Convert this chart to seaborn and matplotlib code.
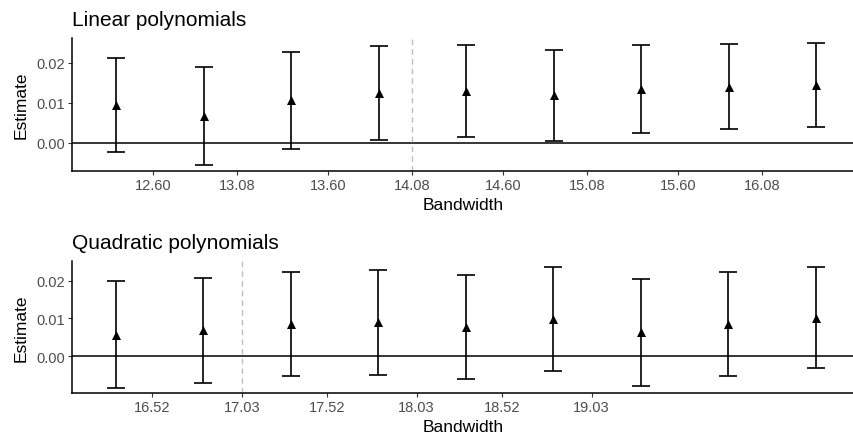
import numpy as np
import pandas as pd
import matplotlib
matplotlib.use("Agg")
import matplotlib.pyplot as plt
import seaborn as sns

# ---- data ----
lin_bw = [12.39, 12.89, 13.39, 13.89, 14.39, 14.89, 15.39, 15.89, 16.39]
lin_lo = [-0.0024, -0.0055, -0.0016, 0.0006, 0.0013, 0.0005, 0.0023, 0.0033, 0.0038]
lin_hi = [0.0212, 0.0189, 0.0227, 0.0243, 0.0244, 0.0233, 0.0244, 0.0246, 0.0249]
lin_est = [0.0094, 0.0067, 0.0106, 0.0124, 0.0129, 0.0119, 0.0134, 0.0140, 0.0144]
lin_ticks = [12.60, 13.08, 13.60, 14.08, 14.60, 15.08, 15.60, 16.08]
lin_ticklabels = ["12.60", "13.08", "13.60", "14.08", "14.60", "15.08", "15.60", "16.08"]
lin_vline = 14.08

quad_bw = [16.31, 16.81, 17.31, 17.81, 18.31, 18.81, 19.31, 19.81, 20.31]
quad_lo = [-0.0084, -0.0072, -0.0054, -0.0050, -0.0060, -0.0039, -0.0080, -0.0054, -0.0033]
quad_hi = [0.0198, 0.0207, 0.0224, 0.0227, 0.0216, 0.0236, 0.0205, 0.0222, 0.0236]
quad_est = [0.0057, 0.0068, 0.0085, 0.0089, 0.0078, 0.0099, 0.0063, 0.0084, 0.0102]
quad_ticks = [16.52, 17.03, 17.52, 18.03, 18.52, 19.03]
quad_ticklabels = ["16.52", "17.03", "17.52", "18.03", "18.52", "19.03"]
quad_vline = 17.03

y_ticks = [0.00, 0.01, 0.02]
y_ticklabels = ["0.00", "0.01", "0.02"]

sns.set_theme(style="ticks")
plt.rcParams["font.family"] = ["Liberation Sans", "DejaVu Sans"]

fig = plt.figure(figsize=(8.54, 4.39), dpi=100)
W, H = 854, 439

def make_ax(top_px, bot_px):
    return fig.add_axes([72 / W, 1 - bot_px / H, (854 - 72) / W, (bot_px - top_px) / H])

panels = [
    (make_ax(39, 172), "Linear polynomials", lin_bw, lin_est, lin_lo, lin_hi,
     lin_ticks, lin_ticklabels, lin_vline, (12.137, 16.606), (-0.0071, 0.0262)),
    (make_ax(262, 394), "Quadratic polynomials", quad_bw, quad_est, quad_lo, quad_hi,
     quad_ticks, quad_ticklabels, quad_vline, (16.06, 20.53), (-0.0098, 0.0252)),
]

for ax, title, bw, est, lo, hi, xt, xtl, vl, xlim, ylim in panels:
    df = pd.DataFrame({"bw": bw, "est": est, "lo": lo, "hi": hi})
    ax.axhline(0, color="black", lw=1.1, zorder=1)
    ax.axvline(vl, color="#BEBEBE", lw=1.0, ls=(0, (4, 3)), zorder=1)
    ax.errorbar(df["bw"], df["est"],
                yerr=[df["est"] - df["lo"], df["hi"] - df["est"]],
                fmt="none", ecolor="black", elinewidth=1.2, capsize=6.2,
                capthick=1.2, zorder=2)
    sns.scatterplot(data=df, x="bw", y="est", marker="^", s=42, color="black",
                    edgecolor="black", linewidth=0, ax=ax, zorder=3)
    ax.set_xlim(*xlim)
    ax.set_ylim(*ylim)
    ax.set_xticks(xt)
    ax.set_xticklabels(xtl)
    ax.set_yticks(y_ticks)
    ax.set_yticklabels(y_ticklabels)
    ax.tick_params(axis="both", labelsize=10.5, labelcolor="#4D4D4D", color="#333333",
                   length=3, width=0.8, pad=2)
    for s in ["top", "right"]:
        ax.spines[s].set_visible(False)
    for s in ["left", "bottom"]:
        ax.spines[s].set_color("black")
        ax.spines[s].set_linewidth(1.1)
    ax.set_xlabel("Bandwidth", fontsize=12.5, labelpad=4, color="black")
    ax.set_ylabel("Estimate", fontsize=12.5, labelpad=5.5, color="black")
    ax.set_title(title, loc="left", fontsize=15, pad=9, color="black")

fig.savefig("out.png", dpi=100)
